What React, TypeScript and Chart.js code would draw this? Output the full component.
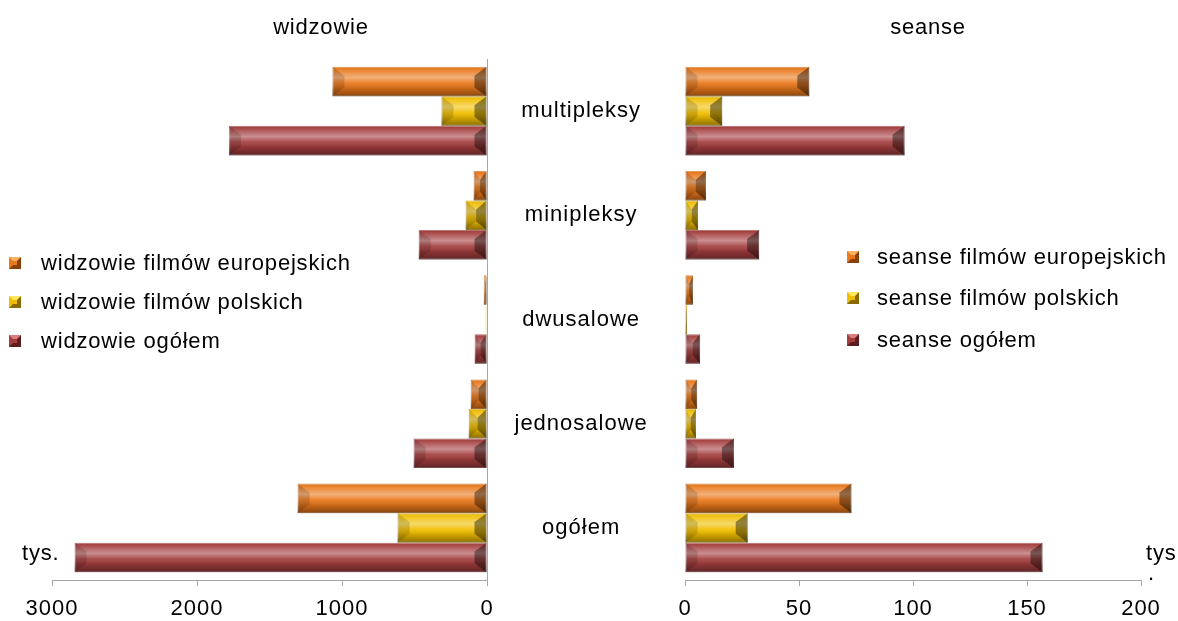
import React, { useEffect, useRef } from 'react';
import { Chart, registerables } from 'chart.js';

Chart.register(...registerables);

// ---- data ----
const categories = ['multipleksy', 'minipleksy', 'dwusalowe', 'jednosalowe', 'ogółem'];

const widzowieEuropejskie = [1066, 92, 22, 112, 1306];
const widzowiePolskie = [314, 147, 10, 126, 617];
const widzowieOgolem = [1779, 471, 85, 506, 2844];

const seanseEuropejskie = [54.5, 9.2, 3.5, 5.3, 73.0];
const seansePolskie = [16.3, 5.7, 0.9, 4.8, 27.5];
const seanseOgolem = [96.3, 32.5, 6.6, 21.5, 156.8];

const widzowieTicks = [0, 1000, 2000, 3000];
const seanseTicks = [0, 50, 100, 150, 200];

const widzowieLabels = ['widzowie filmów europejskich', 'widzowie filmów polskich', 'widzowie ogółem'];
const seanseLabels = ['seanse filmów europejskich', 'seanse filmów polskich', 'seanse ogółem'];

// ---- styles ----
const FONT = '"Liberation Sans", Arial, sans-serif';
const colors = ['#E9781B', '#F0BE00', '#A43E3E'];
const borderColors = ['#F4A35E', '#F3CF52', '#C77A7A'];
const darkColors = ['#8A4008', '#8A6A00', '#5A1E1E'];
const lightColors = ['#FFB060', '#FFE860', '#D88080'];
const GRAY = '#A6A6A6';

function poly(ctx: CanvasRenderingContext2D, pts: number[][], fill: string) {
  ctx.beginPath();
  ctx.moveTo(pts[0][0], pts[0][1]);
  for (let i = 1; i < pts.length; i++) ctx.lineTo(pts[i][0], pts[i][1]);
  ctx.closePath();
  ctx.fillStyle = fill;
  ctx.fill();
}

const bevelPlugin = {
  id: 'bevel',
  beforeDraw(chart: any) {
    (chart.ctx as any).letterSpacing = '1px';
  },
  afterDatasetsDraw(chart: any) {
    const ctx: CanvasRenderingContext2D = chart.ctx;
    chart.getSortedVisibleDatasetMetas().forEach((meta: any) => {
      meta.data.forEach((el: any) => {
        const p = el.getProps(['x', 'y', 'base', 'height'], true);
        const l = Math.min(p.x, p.base);
        const r = Math.max(p.x, p.base);
        const t = p.y - p.height / 2;
        const b = p.y + p.height / 2;
        const w = r - l;
        const h = b - t;
        if (w < 1) return;
        const bx = Math.min(12, w / 2);
        const by = Math.min(h * 0.3, 9);
        ctx.save();
        const g = ctx.createLinearGradient(0, t, 0, b);
        g.addColorStop(0, 'rgba(0,0,0,0.08)');
        g.addColorStop(0.1, 'rgba(255,255,255,0.08)');
        g.addColorStop(0.36, 'rgba(255,255,255,0.42)');
        g.addColorStop(0.55, 'rgba(255,255,255,0.08)');
        g.addColorStop(0.72, 'rgba(0,0,0,0.12)');
        g.addColorStop(1, 'rgba(0,0,0,0.42)');
        ctx.fillStyle = g;
        ctx.fillRect(l, t, w, h);
        poly(ctx, [[r, t], [r - bx, t + by], [r - bx, b - by], [r, b]], 'rgba(0,0,0,0.40)');
        poly(ctx, [[l, t], [l + bx, t + by], [l + bx, b - by], [l, b]], 'rgba(0,0,0,0.14)');
        ctx.restore();
      });
    });
  },
};

function makeDatasets(labels: string[], values: number[][]) {
  return values.map((v, i) => ({
    label: labels[i],
    data: v,
    backgroundColor: colors[i],
    borderColor: borderColors[i],
    borderWidth: 1,
    borderSkipped: false as any,
    barPercentage: 1,
    categoryPercentage: 0.85,
  }));
}

const tickFont = { family: FONT, size: 22 };
const plainTick = (v: any) => String(v);

function LeftChart() {
  const ref = useRef<HTMLCanvasElement>(null);
  useEffect(() => {
    if (!ref.current) return;
    const chart = new Chart(ref.current, {
      type: 'bar',
      data: {
        labels: categories,
        datasets: makeDatasets(widzowieLabels, [widzowieEuropejskie, widzowiePolskie, widzowieOgolem]),
      },
      options: {
        indexAxis: 'y',
        responsive: false,
        animation: false,
        layout: { padding: { left: 52, right: 15, top: 59, bottom: 0 } },
        scales: {
          x: {
            type: 'linear',
            reverse: true,
            min: 0,
            max: 3000,
            afterBuildTicks: (s: any) => {
              s.ticks = widzowieTicks.map((v) => ({ value: v }));
            },
            afterFit: (s: any) => {
              s.height = 41;
            },
            grid: { display: true, drawOnChartArea: false, drawTicks: true, tickLength: 6, color: GRAY },
            border: { display: true, color: GRAY },
            ticks: { font: tickFont, color: '#000', padding: 10, maxRotation: 0, autoSkip: false, callback: plainTick },
          },
          y: {
            type: 'category',
            position: 'right',
            grid: { display: false, drawTicks: false },
            border: { display: true, color: GRAY },
            ticks: { font: tickFont, color: '#000', crossAlign: 'center', padding: 33 },
            afterFit: (s: any) => {
              s.width = 198;
              s.paddingTop = 0;
              s.paddingBottom = 0;
            },
          },
        },
        plugins: { legend: { display: false }, tooltip: { enabled: false }, title: { display: false } },
      } as any,
      plugins: [bevelPlugin],
    });
    return () => chart.destroy();
  }, []);
  return <canvas ref={ref} width={700} height={621} style={{ position: 'absolute', left: 0, top: 0, width: 700, height: 621 }} />;
}

function RightChart() {
  const ref = useRef<HTMLCanvasElement>(null);
  useEffect(() => {
    if (!ref.current) return;
    const chart = new Chart(ref.current, {
      type: 'bar',
      data: {
        labels: categories,
        datasets: makeDatasets(seanseLabels, [seanseEuropejskie, seansePolskie, seanseOgolem]),
      },
      options: {
        indexAxis: 'y',
        responsive: false,
        animation: false,
        layout: { padding: { left: 25, right: 37, top: 59, bottom: 0 } },
        scales: {
          x: {
            type: 'linear',
            min: 0,
            max: 200,
            afterBuildTicks: (s: any) => {
              s.ticks = seanseTicks.map((v) => ({ value: v }));
            },
            afterFit: (s: any) => {
              s.height = 41;
            },
            grid: { display: true, drawOnChartArea: false, drawTicks: true, tickLength: 6, color: GRAY },
            border: { display: true, color: GRAY },
            ticks: { font: tickFont, color: '#000', padding: 10, maxRotation: 0, autoSkip: false, callback: plainTick },
          },
          y: { type: 'category', display: false },
        },
        plugins: { legend: { display: false }, tooltip: { enabled: false }, title: { display: false } },
      } as any,
      plugins: [bevelPlugin],
    });
    return () => chart.destroy();
  }, []);
  return <canvas ref={ref} width={518} height={621} style={{ position: 'absolute', left: 660, top: 0, width: 518, height: 621 }} />;
}

const textStyle: React.CSSProperties = {
  position: 'absolute',
  fontFamily: FONT,
  fontSize: 22,
  letterSpacing: '0.8px',
  color: '#000',
  whiteSpace: 'nowrap',
  lineHeight: '26px',
  height: 26,
};

function Marker({ i, left, cy, size }: { i: number; left: number; cy: number; size: number }) {
  return (
    <div
      style={{
        position: 'absolute',
        left,
        top: cy - size / 2,
        width: size,
        height: size,
        boxSizing: 'border-box',
        background: colors[i],
        borderStyle: 'solid',
        borderWidth: `${Math.round(size / 3)}px`,
        borderTopColor: lightColors[i],
        borderLeftColor: colors[i],
        borderRightColor: darkColors[i],
        borderBottomColor: darkColors[i],
      }}
    />
  );
}

function Legend({ labels, left, textLeft, rows, size }: { labels: string[]; left: number; textLeft: number; rows: number[]; size: number }) {
  return (
    <>
      {labels.map((lab, i) => (
        <React.Fragment key={lab}>
          <Marker i={i} left={left} cy={rows[i]} size={size} />
          <div style={{ ...textStyle, left: textLeft, top: rows[i] - 13 }}>{lab}</div>
        </React.Fragment>
      ))}
    </>
  );
}

function Centered({ text, cx, cy }: { text: string; cx: number; cy: number }) {
  return (
    <div style={{ ...textStyle, left: cx - 150, width: 300, textAlign: 'center', top: cy - 13 }}>{text}</div>
  );
}

export default function App() {
  return (
    <div style={{ position: 'absolute', left: 0, top: 0, width: 1178, height: 621, background: '#fff', overflow: 'hidden' }}>
      <LeftChart />
      <RightChart />
      <Centered text="widzowie" cx={321} cy={27} />
      <Centered text="seanse" cx={928} cy={27} />
      <Legend labels={widzowieLabels} left={9} textLeft={41} rows={[263, 302, 341]} size={12} />
      <Legend labels={seanseLabels} left={847} textLeft={877} rows={[257, 298, 340]} size={12} />
      <div style={{ ...textStyle, left: 22, top: 553 - 13 }}>tys.</div>
      <div style={{ ...textStyle, left: 1146, top: 553 - 13 }}>tys</div>
      <div style={{ ...textStyle, left: 1148, top: 573 - 13 }}>.</div>
    </div>
  );
}
